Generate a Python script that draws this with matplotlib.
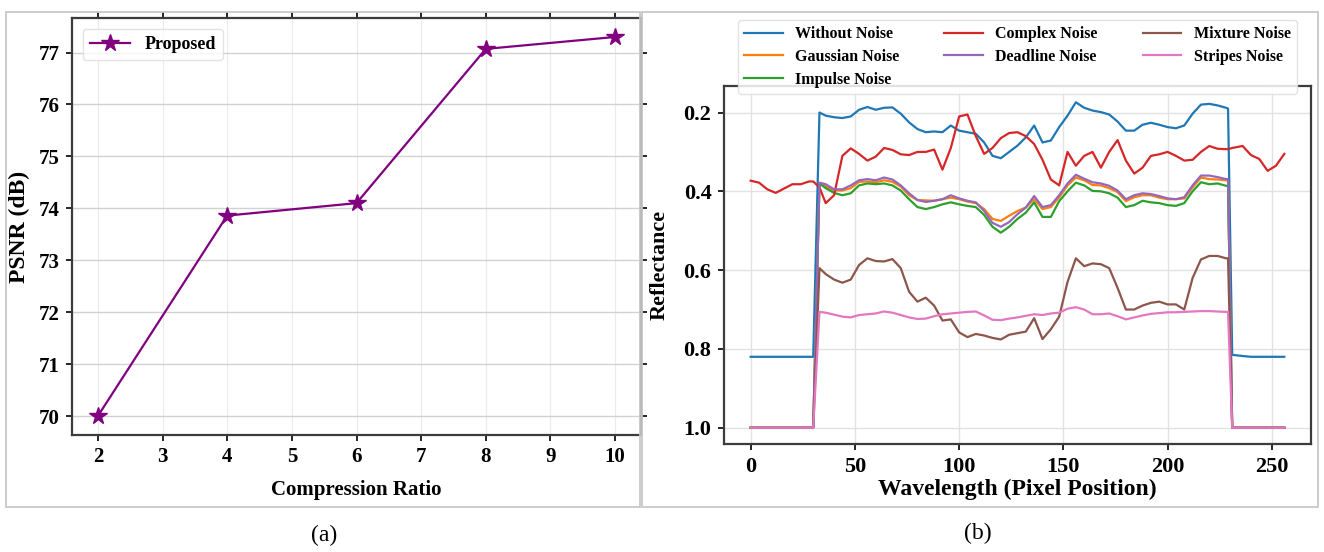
import matplotlib

matplotlib.use("Agg")

import matplotlib.pyplot as plt
from matplotlib.patches import Rectangle

plt.rcParams["font.family"] = ["Liberation Serif", "DejaVu Serif"]
plt.rcParams["font.weight"] = "bold"
plt.rcParams["axes.labelweight"] = "bold"

# ---- panel (a) ----
ratios = [2, 4, 6, 8, 10]
psnr = [70.0, 73.86, 74.1, 77.07, 77.3]

# ---- panel (b) ----
wavelength = [0, 4, 8, 12, 16, 20, 24, 28, 30, 33,
              36, 40, 44, 48, 52, 56, 60, 64, 68, 72,
              76, 80, 84, 88, 92, 96, 100, 104, 108, 112,
              116, 120, 124, 128, 132, 136, 140, 144, 148, 152,
              156, 160, 164, 168, 172, 176, 180, 184, 188, 192,
              196, 200, 204, 208, 212, 216, 220, 224, 228,
              229, 231, 236, 240, 244, 248, 252, 256]

without_noise = [0.82, 0.82, 0.82, 0.82, 0.82, 0.82, 0.82, 0.82, 0.82, 0.20,
                 0.208, 0.212, 0.214, 0.21, 0.193, 0.186, 0.193, 0.188, 0.187, 0.203,
                 0.225, 0.242, 0.25, 0.248, 0.25, 0.233, 0.246, 0.25, 0.254, 0.276,
                 0.31, 0.316, 0.30, 0.284, 0.263, 0.233, 0.276, 0.271, 0.237, 0.208,
                 0.174, 0.188, 0.195, 0.199, 0.205, 0.223, 0.246, 0.246, 0.231, 0.226,
                 0.231, 0.237, 0.24, 0.233, 0.203, 0.18, 0.178, 0.182, 0.188,
                 0.19, 0.815, 0.818, 0.82, 0.82, 0.82, 0.82, 0.82]

gaussian_noise = [1.0, 1.0, 1.0, 1.0, 1.0, 1.0, 1.0, 1.0, 1.0, 0.38,
                  0.388, 0.398, 0.398, 0.392, 0.376, 0.375, 0.377, 0.372, 0.376, 0.388,
                  0.41, 0.422, 0.423, 0.424, 0.42, 0.416, 0.42, 0.426, 0.43, 0.445,
                  0.47, 0.475, 0.462, 0.45, 0.441, 0.42, 0.445, 0.44, 0.415, 0.385,
                  0.365, 0.372, 0.384, 0.385, 0.392, 0.402, 0.425, 0.415, 0.41, 0.41,
                  0.416, 0.42, 0.42, 0.418, 0.39, 0.365, 0.369, 0.37, 0.372,
                  0.372, 1.0, 1.0, 1.0, 1.0, 1.0, 1.0, 1.0]

impulse_noise = [1.0, 1.0, 1.0, 1.0, 1.0, 1.0, 1.0, 1.0, 1.0, 0.38,
                 0.392, 0.404, 0.41, 0.405, 0.385, 0.38, 0.382, 0.38, 0.385, 0.398,
                 0.42, 0.44, 0.445, 0.44, 0.433, 0.428, 0.433, 0.437, 0.44, 0.46,
                 0.49, 0.505, 0.49, 0.47, 0.454, 0.428, 0.465, 0.465, 0.425, 0.40,
                 0.378, 0.385, 0.399, 0.40, 0.405, 0.416, 0.44, 0.435, 0.424, 0.428,
                 0.43, 0.435, 0.437, 0.43, 0.40, 0.377, 0.382, 0.38, 0.386,
                 0.386, 1.0, 1.0, 1.0, 1.0, 1.0, 1.0, 1.0]

complex_noise = [0.373, 0.378, 0.395, 0.404, 0.393, 0.382, 0.382, 0.375, 0.375, 0.39,
                 0.43, 0.41, 0.31, 0.291, 0.305, 0.322, 0.312, 0.29, 0.295, 0.306,
                 0.308, 0.30, 0.30, 0.294, 0.345, 0.29, 0.21, 0.205, 0.26, 0.305,
                 0.29, 0.265, 0.252, 0.25, 0.26, 0.28, 0.32, 0.37, 0.385, 0.30,
                 0.335, 0.31, 0.30, 0.34, 0.30, 0.27, 0.322, 0.355, 0.34, 0.31,
                 0.306, 0.30, 0.31, 0.322, 0.32, 0.30, 0.285, 0.292, 0.293,
                 0.293, 0.29, 0.285, 0.308, 0.318, 0.348, 0.335, 0.305]

deadline_noise = [1.0, 1.0, 1.0, 1.0, 1.0, 1.0, 1.0, 1.0, 1.0, 0.378,
                  0.382, 0.395, 0.395, 0.385, 0.372, 0.369, 0.372, 0.365, 0.37, 0.385,
                  0.405, 0.422, 0.427, 0.424, 0.42, 0.41, 0.418, 0.424, 0.428, 0.45,
                  0.48, 0.49, 0.478, 0.458, 0.441, 0.412, 0.44, 0.435, 0.41, 0.38,
                  0.358, 0.368, 0.377, 0.38, 0.386, 0.398, 0.42, 0.41, 0.405, 0.407,
                  0.412, 0.418, 0.42, 0.415, 0.385, 0.36, 0.36, 0.364, 0.369,
                  0.369, 1.0, 1.0, 1.0, 1.0, 1.0, 1.0, 1.0]

mixture_noise = [1.0, 1.0, 1.0, 1.0, 1.0, 1.0, 1.0, 1.0, 1.0, 0.595,
                 0.61, 0.624, 0.632, 0.624, 0.587, 0.57, 0.577, 0.578, 0.572, 0.595,
                 0.655, 0.68, 0.67, 0.69, 0.728, 0.725, 0.758, 0.77, 0.762, 0.766,
                 0.772, 0.776, 0.764, 0.76, 0.756, 0.722, 0.775, 0.75, 0.718, 0.63,
                 0.57, 0.59, 0.583, 0.585, 0.595, 0.645, 0.70, 0.70, 0.69, 0.683,
                 0.68, 0.687, 0.687, 0.70, 0.62, 0.573, 0.564, 0.564, 0.57,
                 0.57, 1.0, 1.0, 1.0, 1.0, 1.0, 1.0, 1.0]

stripes_noise = [1.0, 1.0, 1.0, 1.0, 1.0, 1.0, 1.0, 1.0, 1.0, 0.706,
                 0.708, 0.713, 0.718, 0.72, 0.714, 0.712, 0.71, 0.705, 0.708, 0.714,
                 0.72, 0.724, 0.723, 0.717, 0.712, 0.71, 0.708, 0.706, 0.705, 0.715,
                 0.726, 0.727, 0.723, 0.72, 0.716, 0.712, 0.714, 0.71, 0.708, 0.698,
                 0.694, 0.70, 0.712, 0.712, 0.71, 0.717, 0.725, 0.72, 0.715, 0.711,
                 0.709, 0.707, 0.707, 0.706, 0.705, 0.704, 0.704, 0.705, 0.706,
                 0.706, 1.0, 1.0, 1.0, 1.0, 1.0, 1.0, 1.0]

series = [
    ("Without Noise", without_noise),
    ("Gaussian Noise", gaussian_noise),
    ("Impulse Noise", impulse_noise),
    ("Complex Noise", complex_noise),
    ("Deadline Noise", deadline_noise),
    ("Mixture Noise", mixture_noise),
    ("Stripes Noise", stripes_noise),
]

W, H = 1324, 552
SPINE = "#3c3c3c"

fig = plt.figure(figsize=(W / 100, H / 100), dpi=100)
fig.patch.set_facecolor("white")


def px_box(left, top, right, bottom):
    return [left / W, 1 - bottom / H, (right - left) / W, (bottom - top) / H]


# light frames around each sub-figure
for l, t, r, b in [(6, 12, 640, 507), (642, 12, 1318, 507)]:
    fig.patches.append(Rectangle((l / W, 1 - b / H), (r - l) / W, (b - t) / H,
                                 transform=fig.transFigure, fill=False,
                                 edgecolor="#c8c8c8", lw=1.3))

# ---- (a) PSNR vs compression ratio ----
ax1 = fig.add_axes(px_box(72, 18, 641, 435))
ax1.plot(ratios, psnr, color="#800080", marker="*", markersize=13, lw=1.6,
         label="Proposed")
ax1.set_xticks(range(2, 11))
ax1.set_yticks(range(70, 78))
ax1.grid(axis="y", color="#d2d2d2", lw=1.0)
ax1.grid(axis="x", color="#ebebeb", lw=0.8)
ax1.set_axisbelow(True)
ax1.tick_params(direction="out", top=True, right=True, labelsize=15,
                length=4, width=1.2, pad=5)
for sp in ax1.spines.values():
    sp.set_color(SPINE)
    sp.set_linewidth(1.6)
ax1.set_xlabel("Compression Ratio", fontsize=15, labelpad=9)
ax1.set_ylabel("PSNR (dB)", fontsize=17, labelpad=6)
ax1.legend(loc="upper left", fontsize=13, framealpha=0.8, edgecolor="#dddddd",
           handlelength=2.2, borderaxespad=0.6)

# ---- (b) reflectance spectra ----
ax2 = fig.add_axes(px_box(724, 86, 1311, 444))
for name, vals in series:
    ax2.plot(wavelength, vals, lw=1.6, label=name)
ax2.invert_yaxis()
ax2.set_yticks([0.2, 0.4, 0.6, 0.8, 1.0])
ax2.set_yticklabels(["0.2", "0.4", "0.6", "0.8", "1.0"])
ax2.set_xticks(range(0, 251, 50))
ax2.grid(color="#e2e2e2", lw=1.0)
ax2.set_axisbelow(True)
ax2.tick_params(direction="out", labelsize=16, length=4, width=1.2, pad=5)
for sp in ax2.spines.values():
    sp.set_color(SPINE)
    sp.set_linewidth(1.6)
ax2.set_xlabel("Wavelength (Pixel Position)", fontsize=17, labelpad=2)
ax2.set_ylabel("Reflectance", fontsize=16, labelpad=10)
ax2.legend(loc="upper center", bbox_to_anchor=(0.5, 1.185), ncol=3,
           fontsize=11.5, framealpha=0.85, edgecolor="#dddddd",
           handlelength=2.4, handletextpad=0.8, columnspacing=2.8,
           labelspacing=0.42, borderaxespad=0)

fig.text(324 / W, 1 - 535 / H, "(a)", ha="center", va="center",
         fontsize=17, fontweight="normal")
fig.text(978 / W, 1 - 533 / H, "(b)", ha="center", va="center",
         fontsize=17, fontweight="normal")

fig.savefig("out.png", dpi=100, facecolor="white")
